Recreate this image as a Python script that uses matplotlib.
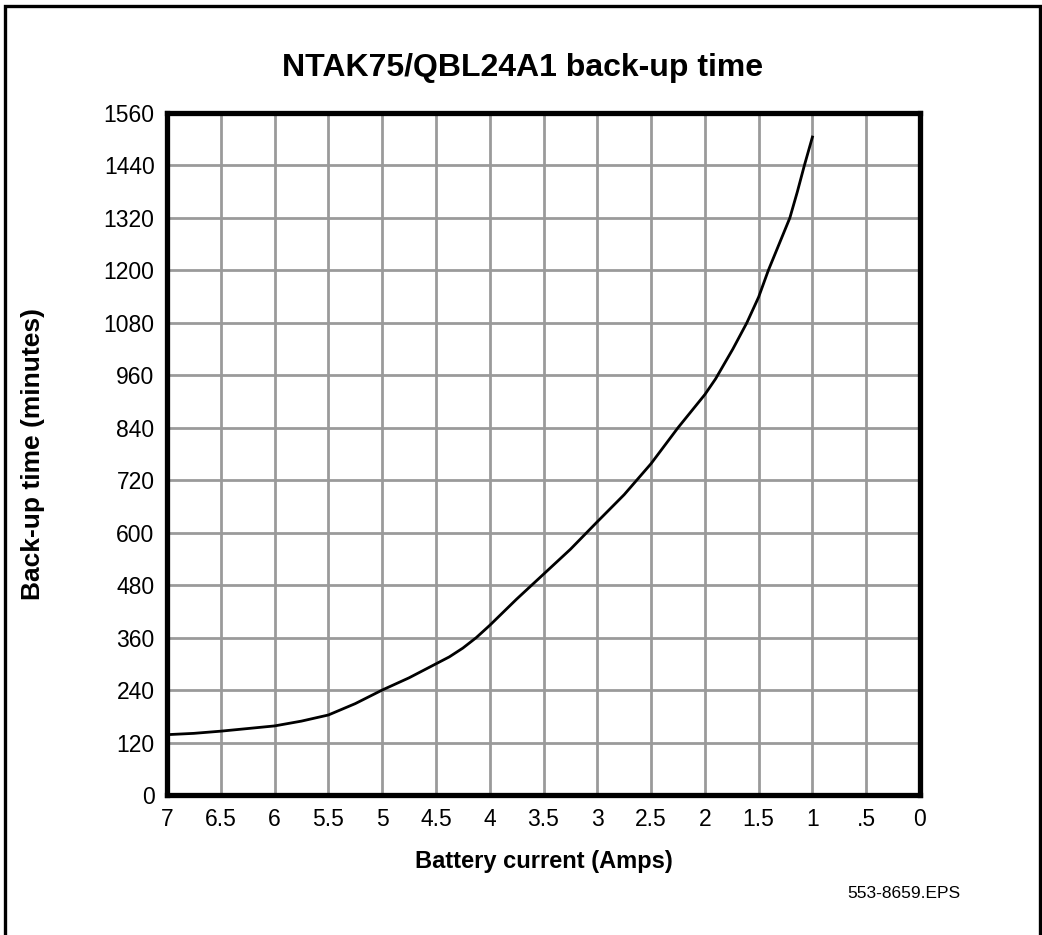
import matplotlib
matplotlib.use("Agg")
import matplotlib.pyplot as plt
from matplotlib.patches import Rectangle

plt.rcParams["font.family"] = ["Liberation Sans", "DejaVu Sans"]

# battery current (A) vs back-up time (minutes)
current = [7.0, 6.75, 6.5, 6.0, 5.75, 5.5, 5.25, 5.0, 4.75, 4.5, 4.375, 4.25, 4.125, 4.0,
           3.75, 3.5, 3.25, 3.0, 2.75, 2.5, 2.25, 2.0, 1.9, 1.74, 1.61, 1.5, 1.41, 1.31,
           1.21, 1.14, 1.075, 1.0]
backup_min = [138, 141, 146, 158, 169, 183, 209, 240, 268, 300, 316, 336, 360, 388,
              448, 505, 562, 625, 687, 758, 840, 916, 952, 1020, 1080, 1139, 1200, 1260,
              1320, 1380, 1440, 1505]

x_ticks = [7, 6.5, 6, 5.5, 5, 4.5, 4, 3.5, 3, 2.5, 2, 1.5, 1, 0.5, 0]
x_labels = ["7", "6.5", "6", "5.5", "5", "4.5", "4", "3.5", "3", "2.5", "2", "1.5", "1", ".5", "0"]
y_ticks = list(range(0, 1561, 120))

fig = plt.figure(figsize=(10.42, 9.35), dpi=100)

# outer frame of the figure
fig.patches.append(Rectangle((5 / 1042, -0.05), 1035 / 1042, 1.05 - 6 / 935,
                             transform=fig.transFigure, fill=False,
                             edgecolor="black", linewidth=2.4))

ax = fig.add_axes([167 / 1042, 1 - 795 / 935, 753 / 1042, 682 / 935])
ax.plot(current, backup_min, color="black", linewidth=2.0, zorder=3,
        solid_joinstyle="round")

ax.set_xlim(7, 0)
ax.set_ylim(0, 1560)
ax.set_xticks(x_ticks)
ax.set_xticklabels(x_labels)
ax.set_yticks(y_ticks)
ax.grid(True, color="#9a9a9a", linewidth=2.0)
ax.set_axisbelow(True)
ax.tick_params(length=0, labelsize=16.5, pad=9)

for spine in ax.spines.values():
    spine.set_linewidth(3.8)
    spine.set_color("black")

ax.set_xlabel("Battery current (Amps)", fontsize=17, fontweight="bold", labelpad=14)
ax.set_ylabel("Back-up time (minutes)", fontsize=19, fontweight="bold", labelpad=42)

fig.text(523 / 1042, 1 - 68 / 935, "NTAK75/QBL24A1 back-up time", ha="center", va="center",
         fontsize=23, fontweight="bold")
fig.text(960 / 1042, 1 - 894 / 935, "553-8659.EPS", ha="right", va="center", fontsize=12.5)

fig.savefig("out.png", dpi=100)
